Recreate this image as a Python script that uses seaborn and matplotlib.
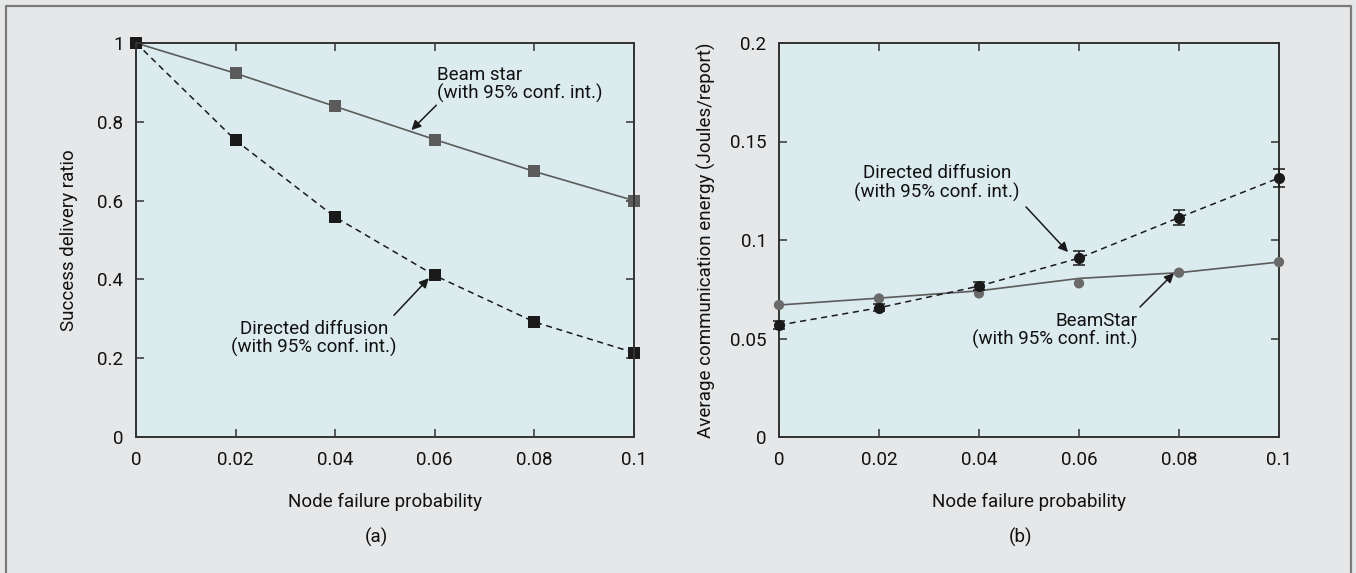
import matplotlib
matplotlib.use("Agg")
import matplotlib.pyplot as plt
import seaborn as sns
import pandas as pd

# 데이터
prob = [0, 0.02, 0.04, 0.06, 0.08, 0.1]

# (a) success delivery ratio
beam_ratio = [1.0, 0.923, 0.839, 0.755, 0.674, 0.600]
dd_ratio = [1.0, 0.753, 0.558, 0.410, 0.292, 0.214]

# (b) communication energy
dd_energy = [0.0568, 0.0656, 0.0766, 0.0908, 0.1114, 0.1315]
dd_err = [0.0020, 0.0018, 0.0020, 0.0036, 0.0036, 0.0044]
beam_energy_line = [0.0670, 0.0705, 0.0742, 0.0805, 0.0834, 0.0888]
beam_energy_pts = [0.0670, 0.0703, 0.0729, 0.0780, 0.0834, 0.0888]

df_a = pd.DataFrame({"p": prob, "beam": beam_ratio, "dd": dd_ratio})
df_b = pd.DataFrame({"p": prob, "dd": dd_energy, "err": dd_err,
                     "beam_line": beam_energy_line, "beam_pts": beam_energy_pts})

sns.set_style("ticks")
plt.rcParams["font.family"] = ["Roboto", "DejaVu Sans"]
plt.rcParams["font.size"] = 13.5
plt.rcParams["text.color"] = "#111111"
plt.rcParams["axes.labelcolor"] = "#111111"
plt.rcParams["xtick.labelcolor"] = "#111111"
plt.rcParams["ytick.labelcolor"] = "#111111"

FS = 13.5
fig_bg = "#e6e7e8"
ax_bg = "#dcebed"
spine_c = "#333333"
gray = "#5b5b5b"

fig = plt.figure(figsize=(13.56, 5.73), dpi=100, facecolor=fig_bg)
ax1 = fig.add_axes([136 / 1356, 1 - 437 / 573, 498 / 1356, 394 / 573])
ax2 = fig.add_axes([779 / 1356, 1 - 437 / 573, 500 / 1356, 394 / 573])

# 바깥 테두리
fig.add_artist(plt.Line2D([6 / 1356, 6 / 1356, 1351 / 1356, 1351 / 1356],
                          [0, 1 - 6 / 573, 1 - 6 / 573, 0],
                          transform=fig.transFigure, color="#7a7a7a", lw=1.6))

# (a)
sns.lineplot(data=df_a, x="p", y="beam", ax=ax1, color=gray, lw=1.2,
             marker="s", markersize=8, markeredgewidth=0, clip_on=False)
sns.lineplot(data=df_a, x="p", y="dd", ax=ax1, color="#1a1a1a", lw=1.1,
             linestyle=(0, (4, 3)), marker="s", markersize=8,
             markeredgewidth=0, clip_on=False)
ax1.set_ylim(0, 1)
ax1.set_yticks([0, 0.2, 0.4, 0.6, 0.8, 1])
ax1.set_yticklabels(["0", "0.2", "0.4", "0.6", "0.8", "1"])
ax1.set_ylabel("Success delivery ratio")

ax1.annotate("", xy=(0.0553, 0.779), xytext=(0.0603, 0.842),
             arrowprops=dict(arrowstyle="-|>", color="#1a1a1a", lw=1.1,
                             mutation_scale=14, shrinkA=0, shrinkB=0))
ax1.text(0.0605, 0.848, "Beam star\n(with 95% conf. int.)", ha="left", va="bottom",
         fontsize=FS, linespacing=1.0)
ax1.annotate("", xy=(0.0588, 0.403), xytext=(0.0518, 0.309),
             arrowprops=dict(arrowstyle="-|>", color="#1a1a1a", lw=1.1,
                             mutation_scale=14, shrinkA=0, shrinkB=0))
ax1.text(0.0357, 0.298, "Directed diffusion\n(with 95% conf. int.)", ha="center", va="top",
         fontsize=FS, linespacing=1.0)

# (b)
sns.lineplot(data=df_b, x="p", y="beam_line", ax=ax2, color=gray, lw=1.2)
sns.scatterplot(data=df_b, x="p", y="beam_pts", ax=ax2, color="#6a6a6a",
                s=55, edgecolor="none", zorder=3, clip_on=False)
ax2.errorbar(df_b["p"], df_b["dd"], yerr=df_b["err"], fmt="none", ecolor="#1a1a1a",
             elinewidth=1.1, capsize=4, capthick=1.1, zorder=4, clip_on=False)
sns.lineplot(data=df_b, x="p", y="dd", ax=ax2, color="#1a1a1a", lw=1.1,
             linestyle=(0, (4, 3)), marker="o", markersize=8,
             markeredgewidth=0, clip_on=False, zorder=5)
ax2.set_ylim(0, 0.2)
ax2.set_yticks([0, 0.05, 0.1, 0.15, 0.2])
ax2.set_yticklabels(["0", "0.05", "0.1", "0.15", "0.2"])
ax2.set_ylabel("Average communication energy (Joules/report)")

ax2.annotate("", xy=(0.0578, 0.0939), xytext=(0.0494, 0.1168),
             arrowprops=dict(arrowstyle="-|>", color="#1a1a1a", lw=1.1,
                             mutation_scale=14, shrinkA=0, shrinkB=0))
ax2.text(0.0316, 0.1195, "Directed diffusion\n(with 95% conf. int.)", ha="center", va="bottom",
         fontsize=FS, linespacing=1.0)
ax2.annotate("", xy=(0.0790, 0.0832), xytext=(0.0722, 0.0660),
             arrowprops=dict(arrowstyle="-|>", color="#1a1a1a", lw=1.1,
                             mutation_scale=14, shrinkA=0, shrinkB=0))
ax2.text(0.0718, 0.0635, "BeamStar\n(with 95% conf. int.)", ha="right", va="top",
         fontsize=FS, linespacing=1.0)

for ax, tag, lx in [(ax1, "(a)", -0.116), (ax2, "(b)", -0.126)]:
    ax.set_facecolor(ax_bg)
    ax.set_xlim(0, 0.1)
    ax.set_xticks(prob)
    ax.set_xticklabels(["0", "0.02", "0.04", "0.06", "0.08", "0.1"])
    ax.set_xlabel("Node failure probability", fontsize=FS)
    ax.yaxis.label.set_size(FS)
    ax.xaxis.set_label_coords(0.5, -0.142)
    ax.yaxis.set_label_coords(lx, 0.5)
    ax.tick_params(direction="in", length=6, width=1.1, color=spine_c,
                   top=True, right=True, labelsize=FS)
    ax.tick_params(axis="x", pad=10)
    ax.tick_params(axis="y", pad=9)
    for s in ax.spines.values():
        s.set_visible(True)
        s.set_color(spine_c)
        s.set_linewidth(1.4)
    ax.text(0.483, -0.254, tag, transform=ax.transAxes, ha="center", va="center", fontsize=FS)

fig.savefig("out.png", dpi=100, facecolor=fig_bg)
